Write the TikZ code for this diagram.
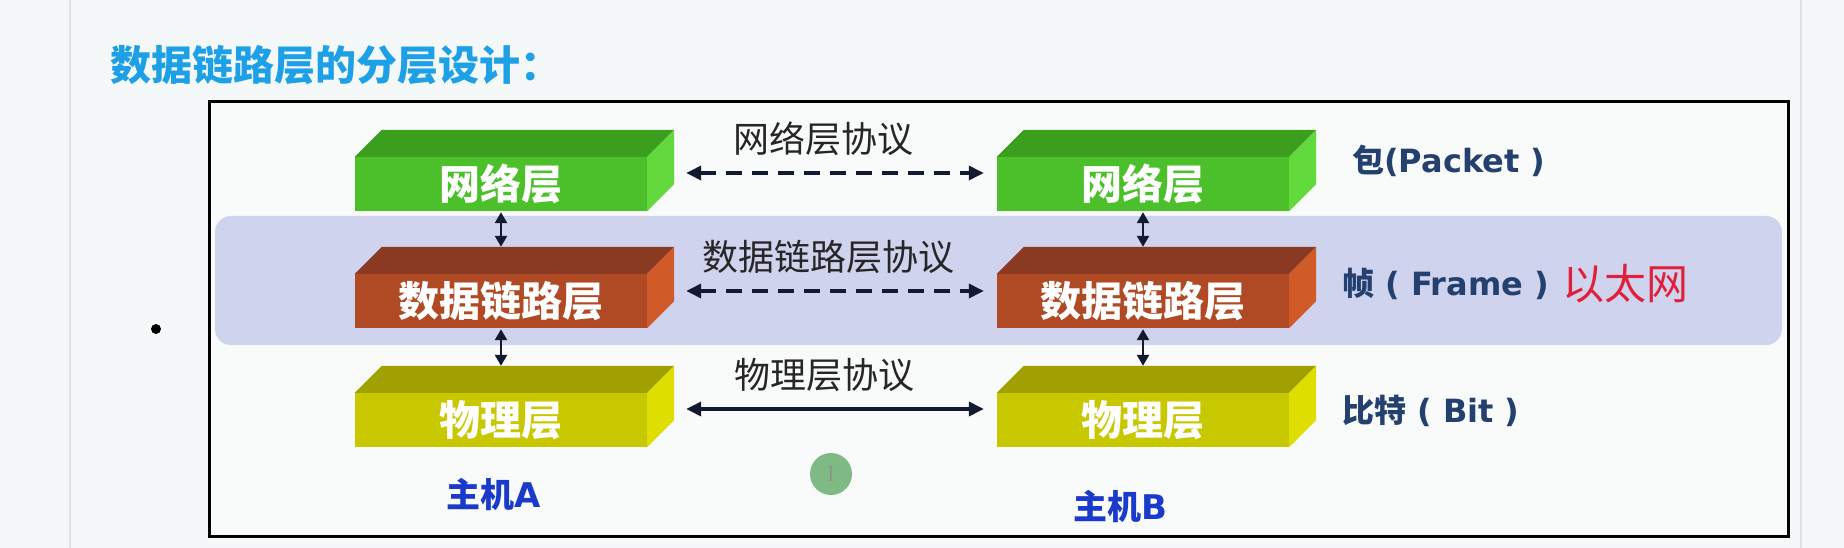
\documentclass[tikz,border=0pt]{standalone}
\usepackage{fontspec}
\newfontfamily\cjk{Noto Sans CJK SC}
\newfontfamily\dvs{DejaVu Sans}
\usetikzlibrary{arrows.meta}
\definecolor{bg}{HTML}{F5F8F8}
\definecolor{slideline}{HTML}{DDE2E2}
\definecolor{lav}{HTML}{D0D3EE}
\definecolor{titleblue}{HTML}{1EA0E6}
\definecolor{navy}{HTML}{23406E}
\definecolor{hostblue}{HTML}{1A3ACB}
\definecolor{arrowc}{HTML}{111A2E}
\definecolor{ethred}{HTML}{E0203A}
\definecolor{gfront}{HTML}{4CC02A}
\definecolor{gtop}{HTML}{3C9E1E}
\definecolor{gside}{HTML}{62D93C}
\definecolor{rfront}{HTML}{B04A25}
\definecolor{rtop}{HTML}{8A3A22}
\definecolor{rside}{HTML}{D05A28}
\definecolor{yfront}{HTML}{C8C800}
\definecolor{ytop}{HTML}{A0A000}
\definecolor{yside}{HTML}{DEDE00}
\definecolor{cursorg}{HTML}{7FBA84}
\newcommand\boxdepth[3]{%
  \fill[#2] (#1.north west) -- ++(27,-27) -- ([shift={(27,-27)}]#1.north east) -- (#1.north east) -- cycle;
  \fill[#3] (#1.north east) -- ++(27,-27) -- ([shift={(27,-27)}]#1.south east) -- (#1.south east) -- cycle;}
\begin{document}
\begin{tikzpicture}[x=1pt,y=-1pt,
  layerface/.style={minimum width=292pt, minimum height=54pt, inner sep=0pt,
    font=\cjk\bfseries\fontsize{41}{41}\selectfont, text=white},
  protoarrow/.style={line width=3.5pt, color=arrowc,
    {Triangle[length=15pt,width=14pt]}-{Triangle[length=15pt,width=14pt]}},
  protodash/.style={protoarrow, dash pattern=on 16pt off 10pt},
  vertarrow/.style={line width=2.5pt, color=arrowc,
    {Triangle[length=11pt,width=12pt]}-{Triangle[length=11pt,width=12pt]}},
  protolabel/.style={font=\cjk\fontsize{36}{36}\selectfont, text=black!85, inner sep=0pt},
  unitlabel/.style={anchor=west, inner sep=0pt, text=navy, font=\bfseries\fontsize{32}{32}\selectfont},
  hostlabel/.style={inner sep=0pt, text=hostblue, font=\bfseries\fontsize{34}{34}\selectfont}]
\useasboundingbox (0,0) rectangle (1844,548);
\fill[bg] (0,0) rectangle (1844,548);
\draw[slideline, line width=2pt] (70,0) -- (70,548);
\draw[slideline, line width=2pt] (1801,0) -- (1801,548);

% title
\node[anchor=west, inner sep=0pt, text=titleblue, font=\cjk\bfseries\fontsize{41}{41}\selectfont] (title) at (110,65) {数据链路层的分层设计：};

% frame and band
\draw[line width=3pt, fill=bg!60!white] (209,102) rectangle (1788,536);
\fill[lav, rounded corners=16pt] (215,216) rectangle (1782,345);
\fill (156,329) circle (5pt);

% host A
\node[layerface, fill=gfront] (netA) at (501,184) {网络层};
\boxdepth{netA}{gtop}{gside}
\node[layerface, fill=rfront] (dataA) at (501,301) {数据链路层};
\boxdepth{dataA}{rtop}{rside}
\node[layerface, fill=yfront] (phyA) at (501,420) {物理层};
\boxdepth{phyA}{ytop}{yside}

% host B
\node[layerface, fill=gfront] (netB) at (1143,184) {网络层};
\boxdepth{netB}{gtop}{gside}
\node[layerface, fill=rfront] (dataB) at (1143,301) {数据链路层};
\boxdepth{dataB}{rtop}{rside}
\node[layerface, fill=yfront] (phyB) at (1143,420) {物理层};
\boxdepth{phyB}{ytop}{yside}

% vertical arrows
\draw[vertarrow] ([yshift=-1pt]netA.south) -- ([yshift=27pt]dataA.north);
\draw[vertarrow] ([yshift=-1pt]dataA.south) -- ([yshift=27pt]phyA.north);
\draw[vertarrow] ([yshift=-1pt]netB.south) -- ([yshift=27pt]dataB.north);
\draw[vertarrow] ([yshift=-1pt]dataB.south) -- ([yshift=27pt]phyB.north);

% protocol arrows
\draw[protodash] ([xshift=39pt,yshift=11pt]netA.east) -- ([xshift=-13pt,yshift=11pt]netB.west);
\draw[protodash] ([xshift=39pt,yshift=10pt]dataA.east) -- ([xshift=-13pt,yshift=10pt]dataB.west);
\draw[protoarrow] ([xshift=39pt,yshift=11pt]phyA.east) -- ([xshift=-13pt,yshift=11pt]phyB.west);

\node[protolabel] (lnet) at (823,139) {网络层协议};
\node[protolabel] (ldata) at (828,257) {数据链路层协议};
\node[protolabel] (lphy) at (824,375) {物理层协议};

% right labels
\node[unitlabel] (pkt) at (1352,161) {\cjk 包\dvs(Packet )};
\node[unitlabel] (frm) at (1342,284) {\cjk 帧\dvs{} ( Frame )};
\node[anchor=west, inner sep=0pt, text=ethred, font=\cjk\fontsize{42}{42}\selectfont] (eth) at (1562,284) {以太网};
\node[unitlabel] (bit) at (1342,411) {\cjk 比特\dvs{} ( Bit )};

% hosts
\node[hostlabel] (hA) at (494,494) {\cjk 主机\dvs A};
\node[hostlabel] (hB) at (1120,506) {\cjk 主机\dvs B};

% cursor highlight
\node[circle, fill=cursorg, minimum size=42pt, inner sep=0pt, text=black!45,
  font=\fontsize{22}{22}\selectfont] (cur) at (831,474) {I};
\end{tikzpicture}
\end{document}
